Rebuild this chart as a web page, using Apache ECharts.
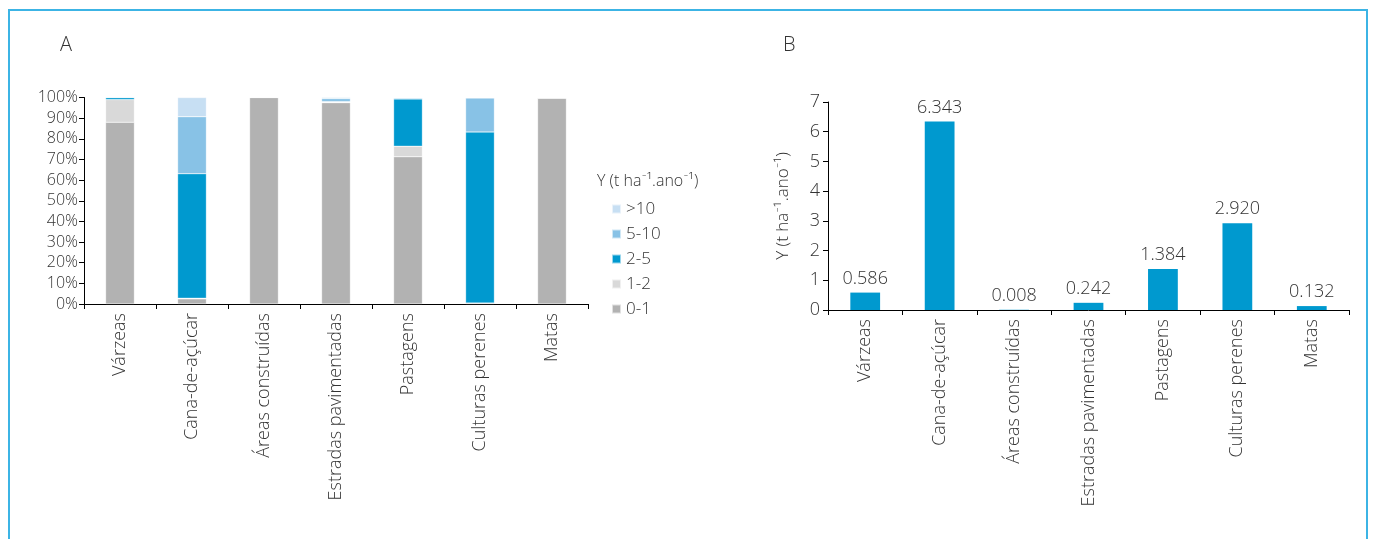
<!DOCTYPE html>
<html><head><meta charset="utf-8">
<script src="https://cdn.jsdelivr.net/npm/echarts@6/dist/echarts.min.js"></script>
<style>html,body{margin:0;padding:0;background:#fff}#c{width:1375px;height:539px}</style>
</head><body><div id="c"></div>
<script>
const categories = ['Várzeas','Cana-de-açúcar','Áreas construídas','Estradas pavimentadas','Pastagens','Culturas perenes','Matas'];
const classNames = ['0-1','1-2','2-5','5-10','>10'];
const pct01  = [88.0, 2.5, 100, 97.5, 71.3, 0.5, 99.7];
const pct12  = [11.0, 0.3, 0, 0.3, 5.1, 0, 0];
const pct25  = [1.0, 60.3, 0, 0.2, 22.9, 82.8, 0];
const pct510 = [0, 27.6, 0, 1.5, 0.5, 16.5, 0.2];
const pct10p = [0, 9.3, 0, 0.5, 0.2, 0.2, 0.1];
const yieldY = [0.586, 6.343, 0.008, 0.242, 1.384, 2.920, 0.132];
const yieldLabels = ['0.586','6.343','0.008','0.242','1.384','2.920','0.132'];
const pctTicks = [0,10,20,30,40,50,60,70,80,90,100];

const classColors = ['#b2b2b2','#d9d9d9','#0099cf','#88c2e6','#c7dff3'];
const FONT = '"Open Sans", Lato, sans-serif';
const FW = 300;
const TXT = '#333';
const stackData = [pct01, pct12, pct25, pct510, pct10p];

const chart = echarts.init(document.getElementById('c'));
const axisLine = {show:true, lineStyle:{color:'#000', width:1}};
const axisTick = {show:true, length:5, lineStyle:{color:'#000'}};

const series = classNames.map((n,i)=>({
  name:n, type:'bar', stack:'s', xAxisIndex:0, yAxisIndex:0,
  data: stackData[i], barWidth:'40%',
  itemStyle:{color:classColors[i], borderColor:'rgba(255,255,255,0.6)', borderWidth:0.5}
}));
series.push({
  name:'Y', type:'bar', xAxisIndex:1, yAxisIndex:1, data:yieldY, barWidth:'40%',
  itemStyle:{color:'#0099cf'},
  label:{show:true, position:'top', distance:5, color:TXT, fontSize:18, fontFamily:FONT, fontWeight:FW,
    formatter:p=>yieldLabels[p.dataIndex]}
});

chart.setOption({
  animation:false,
  textStyle:{fontFamily:FONT},
  graphic:[
    {type:'rect', shape:{x:9,y:10,width:1358,height:540}, style:{fill:'none', stroke:'#3cb4e5', lineWidth:2}, silent:true},
    {type:'text', left:60, top:35, style:{text:'A', fontSize:20, fill:TXT, fontFamily:FONT, fontWeight:FW}},
    {type:'text', left:783, top:35, style:{text:'B', fontSize:20, fill:TXT, fontFamily:FONT, fontWeight:FW}},
    {type:'text', left:597, top:173, style:{text:'Y (t ha⁻¹.ano⁻¹)', fontSize:16, fill:TXT, fontFamily:FONT, fontWeight:FW}}
  ],
  legend:{
    orient:'vertical', left:606, top:193, itemWidth:9, itemHeight:9, itemGap:3,
    data:['>10','5-10','2-5','1-2','0-1'],
    textStyle:{fontSize:17, color:TXT, fontFamily:FONT, fontWeight:FW, lineHeight:22},
    icon:'rect'
  },
  grid:[
    {left:84, right:787, top:97.5, bottom:235, containLabel:false},
    {left:828, right:26, top:102, bottom:229, containLabel:false}
  ],
  xAxis:[
    {type:'category', gridIndex:0, data:categories, axisLine, axisTick,
      axisLabel:{rotate:90, fontSize:18, color:TXT, fontFamily:FONT, fontWeight:FW, margin:9, interval:0}},
    {type:'category', gridIndex:1, data:categories, axisLine, axisTick,
      axisLabel:{rotate:90, fontSize:18, color:TXT, fontFamily:FONT, fontWeight:FW, margin:9, interval:0}}
  ],
  yAxis:[
    {type:'value', gridIndex:0, min:0, max:100, interval:10, axisLine, axisTick, splitLine:{show:false},
      axisLabel:{formatter:'{value}%', fontSize:16, color:TXT, fontFamily:FONT, fontWeight:FW, margin:6}},
    {type:'value', gridIndex:1, min:0, max:7, interval:1, axisLine, axisTick, splitLine:{show:false},
      name:'Y (t ha⁻¹.ano⁻¹)', nameLocation:'middle', nameGap:36, nameRotate:90,
      nameTextStyle:{fontSize:17, color:TXT, fontFamily:FONT, fontWeight:FW},
      axisLabel:{fontSize:18, color:TXT, fontFamily:FONT, fontWeight:FW, margin:8}}
  ],
  series
});
</script></body></html>
